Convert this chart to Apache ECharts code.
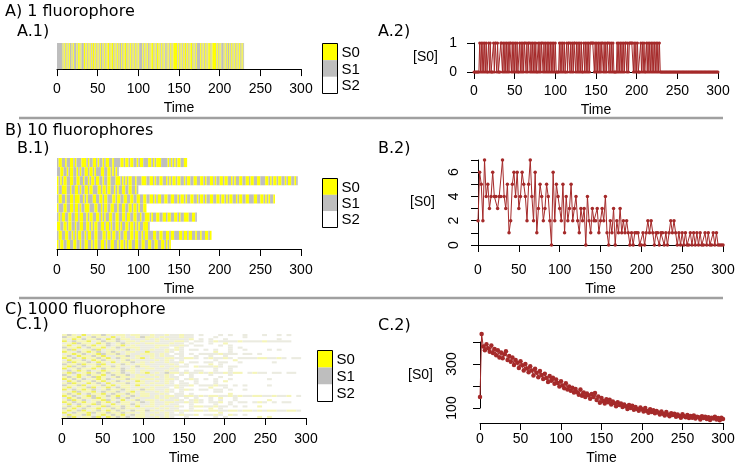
<!DOCTYPE html>
<html><head><meta charset="utf-8">
<script src="https://cdn.jsdelivr.net/npm/echarts/dist/echarts.min.js"></script>
<style>html,body{margin:0;padding:0;background:#fff}#c{width:740px;height:467px}</style>
</head><body><div id="c"></div>
<script>
// ---------- data ----------
const timeTicks = [0, 50, 100, 150, 200, 250, 300];
const stateNames = ['S0', 'S1', 'S2'];
const panelTitles = ['A) 1 fluorophore', 'B) 10 fluorophores', 'C) 1000 fluorophore'];
const subTitles = ['A.1)', 'A.2)', 'B.1)', 'B.2)', 'C.1)', 'C.2)'];

// A.1: one fluorophore, 1 time unit per char (y = S0, g = S1, missing = S2)
const a1States = [
 "gggggggygy gygygyggyg ygggygyygy gggyygygyg ygygyygygy gygyggygyg ygyygygyyg ygygygyggy gygyygygyg ygygygygyg " +
 "yggggygygy gyggygyygy gygyygygyg ygyggygygy gygyyyyygy gygygygyyg ygygyygygy gyggggygyg ygygygyygy gyyyyygygy " +
 "gygggygygy ggygygygyg ygygygygyg"
];

// B.1: ten fluorophores, 2 time units per char
const b1States = [
 "gyyggyggyy gygggyyygy ggyygyggyg yyggyggggy ygyygyyggy gyygggyygy gyyyggggyg ygygyyggyy",
 "ggyyggygyy ggygyggyyg yygygggyyg gyygygyg",
 "ygygyyggyy ggyyggyggy gyygyyggyg gyygggyyyg ygygyyggyg ggyyyggyyg yggyyggygy gyygyyggyg yyggyyggyy gyggyygygg yygyyggygy ggyyggyygy yggyygggyy gygyygyygg ygyyggyg",
 "yggyyyggyg gyygyggyyg yygggyygyy gyyggygygg yyggyyggyg",
 "gyyggyggyy gyyyggygyg ggyyggyygy ygggyygyyg gyyggyyggy yggyyggyyg ygyyggyygg yyggygyygy ggyyggygyy gyggyyggyy gyygygyygg ygyyggyygg gyyggyygyg yggy",
 "ygggyyggyy gyygyggyyy gggyyggygy yggyyggygg yyggyygyyg yggyy",
 "gygyyggyyg gyygyyggyg yyggyygygy ggyyggyygg yygyyggyyg gyggyyygyg gyyggyygyy ggyygyggyy yggyyg",
 "yyggyygyyg gyggyyggyy gygyyggyyg yygyggyygy ggyygyygyg yggyyyg",
 "gyyggyyggy gygyyggygy yggyygggyy gyygyyggyg gyyggyygyy ggygyygggy yggyyggyyg yygggyygyy gyyggyggyg gyygy",
 "ygyyggyygg yyggyggyyg gygyyggyyg yggyyggygy ygygyyggyy ggyyggyygg yyggyygygy"
];

// B.2: number of the ten fluorophores in S0, at t = 0, 2, 4, ..., 300
const b2Values = [
 2, 6, 5, 2, 7, 4, 5, 3, 4, 6,
 4, 4, 3, 4, 4, 7, 4, 3, 5, 1,
 2, 5, 6, 4, 6, 3, 4, 6, 5, 4,
 2, 5, 7, 4, 2, 6, 1, 3, 5, 4,
 2, 3, 5, 4, 2, 0, 6, 2, 5, 4,
 3, 2, 5, 1, 4, 2, 3, 5, 2, 3,
 4, 2, 1, 3, 2, 3, 0, 4, 2, 1,
 3, 2, 2, 3, 1, 2, 3, 2, 4, 1,
 0, 2, 1, 3, 0, 2, 1, 3, 1, 2,
 1, 2, 1, 0, 1, 0, 1, 1, 1, 0,
 0, 1, 0, 1, 2, 1, 2, 1, 0, 1,
 1, 0, 1, 1, 0, 1, 0, 1, 2, 1,
 2, 1, 0, 1, 0, 1, 0, 1, 0, 0,
 1, 0, 1, 0, 1, 0, 1, 0, 0, 1,
 0, 1, 0, 0, 1, 0, 1, 0, 0, 0,
 0
];

// C.1: 1000 fluorophores, shown as 40 pixel rows, 6 time units per char
// Y/G = mostly S0/S1, y/g = mixed with S2, . = S2
const c1States = [
 "yGygYgyyGy gyygyyggyg gyggygg.g. ..g.g..g.. .g..g.g...",
 "GyyYgyGyyg YgyggyGyyg ygggygg... .g.....g.. ..........",
 "ygYyGyyGgY yGyygggygy gyggggy.g. g..g...... ....g.....",
 "YgGyyYgyGy yGgyygyggy gggyyg.gg. gyggggyggg gyggggg...",
 "gyYGyygYyG gyGygygyyg ggygg.g... g..y...... ..........",
 "yYgyGyYgyG gyYgyggggy yyggyg.gg. ..g.g..... ..........",
 "GyyYgGyyYg yGgyyygggy gg.yg..... ....g.g... ..........",
 "yGYgyyGYgy ygyGgyggyg gygyg.gg.g .g..g..g.. ..g.g.....",
 "YygGyYyGgy GygyyggYgg gyg.g..... .y..g..... ..........",
 "gyYyGgyYGy yGgyggyyyg yg.gg.g.gg ggyggg.gg. g.........",
 "yGgYyyGyYg gyyGgyggyg ygg.g..g.. g..g...... ..........",
 "YyGgYyyGyY gGyygyYgyg gyyggyyg.g yggyg.gggg yyggyg.gg.",
 "gYyyGgYyGy ygyGyggggy gyg.g..... .g...y.... ..........",
 "yGYyyGgYyg YgyyGgygyg gyggy.gg.g g.gg..g... ...g......",
 "GyyGYyyGYg gyGygyyggg ggyg.g.... y.g....... ..........",
 "yYGyGgyYyy GyggyGyygg yggygg.ygg gyg.gg.... ..........",
 "YgyGyyYgGy yyGgyggyyg ggyg...... .g..g..... ..........",
 "gGyYyGgyYy gyGyygyggg gygg.g.gg. .g..g..... ..........",
 "yYGgyYyGyG yyGgygyYgy gGyygyggyg yggygyy.gy gg.gg.gg..",
 "GygYyGyyYg GyyGgyggyg gyg.g.g... g...g..... ..........",
 "yGyYgyGYyg yGyygyyggy gygg..g... ..g....... ..........",
 "YyGyGgyYyG gyyGyygyyg gyyg.gyg.g .g..g..... ..g.......",
 "gYyGyyGyYg yGgygYyggy gyg.g..g.. .g.y...... ..........",
 "yGYygYyGgY gyyGgyygyg gyg.gg.g.. .g........ ..........",
 "GyyGYgyyGy YgyygYgygy yggyggy.gg gygg.g.g.. ..g.......",
 "yYgyyGYgyY gGyyggygyg gg.yg..... y..g...... ..........",
 "YgGyYyGgyG yyGygyGyyg gyg.gyg.gg .gg.g..g.. ..........",
 "gyYGyyYgGy yGgyYgyggy gyg.g..... .gg....... ..........",
 "yGyYgGyyYg GyyGygyygg yg.gg.g... ....y..... ..........",
 "YyGgyYGyyG yYgyGgyygy gyyggyygyg yyggygyggy yggyggy.g.",
 "gYyGyyGYyg yGyGgygggy gygg.g.g.. g.y..g.... ..........",
 "yGYyGgyyYG ygYgyGgyyg yggyg.gyg. g.g..g.... ..y.......",
 "YyGyYgyGyY gGyygyGgyg gyyggygyg. ggy.g.gg.g yg.g.gg...",
 "gYgGyyYGyg YgyyGyggyg gygg..g... .g..g..... ..........",
 "yGyYyGgyYG yyGygYgyyg yggyg.gyyg gygg.g.g.. y.........",
 "GyYgGyyYgy GyGyygyggy gygg..g... y.g....... ..........",
 "yYyGYgyGyY yGygGyyGyg yggygygyyg yyggyygyyg ygyyggyyg.",
 "YgGyyYGyyG yyGyygyggy gyg.g..... ..y....... ..........",
 "gYyyGYgyYy GyYgGyygyg gyggyggy.g gyg.yg.g.. ..........",
 "yGYgyyGYgY yGyGgyyggy gyg..g.... .g.g...... y.y......."
];

// C.2: number of fluorophores in S0, at t = 0, 2, 4, ..., 300
const c2Values = [
 150, 436, 380, 362, 390, 372, 356, 384, 350, 368,
 340, 362, 330, 352, 326, 344, 358, 318, 336, 310,
 330, 296, 318, 306, 282, 312, 294, 270, 300, 280,
 262, 290, 270, 248, 278, 260, 240, 268, 250, 232,
 256, 236, 218, 246, 224, 238, 210, 230, 214, 198,
 222, 202, 190, 212, 184, 198, 178, 192, 170, 186,
 172, 160, 184, 156, 170, 150, 166, 158, 142, 164,
 150, 168, 136, 152, 124, 146, 132, 120, 140, 126,
 138, 116, 130, 122, 108, 126, 114, 120, 104, 116,
 108, 96, 114, 100, 110, 92, 104, 96, 88, 102,
 94, 84, 100, 86, 78, 94, 82, 90, 76, 86,
 80, 70, 84, 74, 66, 82, 70, 62, 76, 68,
 74, 60, 70, 64, 56, 72, 62, 58, 68, 54,
 64, 56, 66, 52, 60, 58, 48, 62, 54, 60,
 50, 58, 46, 56, 52, 60, 48, 54, 44, 56,
 50
];

// ---------- build ----------
const RED = '#a52a2a';
const abPalette = {y: '#ffff00', g: '#bebebe'};
const cPalette = {Y: '#efef58', y: '#f5f5b8', G: '#d2d2c6', g: '#ebebe0'};
const legendColors = ['#ffff00', '#bebebe', '#ffffff'];

function clean(s) { return s.replace(/ /g, ''); }
function runs(rows, unit, palette) {
  const out = [];
  const keys = Object.keys(palette);
  rows.forEach((row, i) => {
    const s = clean(row);
    const r = rows.length - 1 - i;
    let a = 0;
    while (a < s.length) {
      let b = a;
      while (b < s.length && s[b] === s[a]) b++;
      const k = keys.indexOf(s[a]);
      if (k >= 0) out.push([a * unit, b * unit, r, k]);
      a = b;
    }
  });
  return out;
}
function stripeSeries(gi, data, palette) {
  const cols = Object.values(palette);
  return {
    type: 'custom', xAxisIndex: gi, yAxisIndex: gi, data: data,
    encode: {x: [0, 1], y: 2}, silent: true,
    renderItem: function (params, api) {
      const p0 = api.coord([api.value(0), api.value(2) + 1]);
      const p1 = api.coord([api.value(1), api.value(2)]);
      return {type: 'rect', shape: {x: p0[0], y: p0[1], width: p1[0] - p0[0], height: p1[1] - p0[1]},
        style: {fill: cols[api.value(3)]}};
    }
  };
}

// A.2 derived from A.1 (1 if S0)
const a1 = clean(a1States[0]);
const a2Data = [];
for (let t = 0; t <= 300; t++) a2Data.push([t, a1[t] === 'y' ? 1 : 0]);
const b2Data = b2Values.map((v, i) => [i * 2, v]);
const c2Data = c2Values.map((v, i) => [i * 2, v]);

const FONT = 'Liberation Sans, Arial, sans-serif';
function xAx(gi, offset) {
  return {
    type: 'value', gridIndex: gi, min: 0, max: 300, offset: offset,
    axisLine: {show: true, lineStyle: {color: '#000', width: 1}},
    axisTick: {show: true, length: 7, customValues: timeTicks, lineStyle: {color: '#000'}},
    axisLabel: {color: '#000', fontSize: 14, fontFamily: FONT, margin: 9, customValues: timeTicks},
    splitLine: {show: false},
    name: 'Time', nameLocation: 'middle', nameGap: 28,
    nameTextStyle: {color: '#000', fontSize: 14, fontFamily: FONT}
  };
}
function yHidden(gi, min, max) {
  return {type: 'value', gridIndex: gi, min: min, max: max, show: false, splitLine: {show: false}};
}
function yAx(gi, min, max, interval, offset, rotate, shown, gap, margin) {
  return {
    type: 'value', gridIndex: gi, min: min, max: max, interval: interval, offset: offset,
    axisLine: {show: true, lineStyle: {color: '#000', width: 1}},
    axisTick: {show: true, length: 7, lineStyle: {color: '#000'}},
    axisLabel: {color: '#000', fontSize: 14, fontFamily: FONT, rotate: rotate, margin: margin,
      formatter: v => (shown.indexOf(v) >= 0 ? String(v) : '')},
    splitLine: {show: false},
    name: '[S0]', nameLocation: 'middle', nameRotate: 0, nameGap: gap,
    nameTextStyle: {color: '#000', fontSize: 14, fontFamily: FONT}
  };
}
function lineSeries(gi, data, size) {
  return {type: 'line', xAxisIndex: gi, yAxisIndex: gi, data: data, clip: false,
    symbol: 'circle', symbolSize: size, showSymbol: true, silent: true,
    itemStyle: {color: RED}, lineStyle: {color: RED, width: 1}};
}

const grids = [
  {left: 57, top: 43, width: 244, height: 30},
  {left: 474, top: 43, width: 244, height: 29},
  {left: 57, top: 158, width: 244, height: 96},
  {left: 478, top: 160, width: 245, height: 85},
  {left: 62, top: 334, width: 244, height: 89},
  {left: 480, top: 342, width: 243, height: 66}
].map(g => Object.assign({outerBoundsMode: 'none', containLabel: false}, g));

// graphics: titles, separators, legends
const TF = '16px "DejaVu Sans", sans-serif';
const graphics = [];
function txt(x, y, s, font) {
  graphics.push({type: 'text', x: x, y: y, silent: true,
    style: {text: s, font: font || TF, fill: '#000', verticalAlign: 'middle', align: 'left'}});
}
txt(5, 12, panelTitles[0]); txt(17, 32, subTitles[0]); txt(378, 32, subTitles[1]);
txt(5, 131, panelTitles[1]); txt(17, 149, subTitles[2]); txt(378, 149, subTitles[3]);
txt(5, 310, panelTitles[2]); txt(16, 325, subTitles[4]); txt(378, 326, subTitles[5]);
[118, 298].forEach(y => graphics.push({type: 'line', silent: true,
  shape: {x1: 19, y1: y, x2: 723, y2: y}, style: {stroke: '#a0a0a0', lineWidth: 2.5}}));
function legend(x, y, w, h) {
  const ch = h / 3;
  stateNames.forEach((n, i) => {
    graphics.push({type: 'rect', silent: true, shape: {x: x, y: y + i * ch, width: w, height: ch},
      style: {fill: legendColors[i]}});
    txt(x + 19, y + i * ch + ch / 2 + 1, n, '15px "Liberation Sans", Arial, sans-serif');
  });
  graphics.push({type: 'rect', silent: true, shape: {x: x, y: y, width: w, height: h},
    style: {fill: 'none', stroke: '#000', lineWidth: 1}});
}
legend(322.5, 43.5, 15, 50);
legend(322.5, 178.5, 15, 49);
legend(317.5, 350.5, 15, 51);

const option = {
  animation: false,
  backgroundColor: '#fff',
  grid: grids,
  xAxis: [xAx(0, 0), xAx(1, 3), xAx(2, 0), xAx(3, 9), xAx(4, 0), xAx(5, 15)],
  yAxis: [
    yHidden(0, -0.15, 1),
    yAx(1, 0, 1, 1, 8, 0, [0, 1], 28, 9),
    yHidden(2, -0.55, 10),
    yAx(3, 0, 7, 1, 9, 90, [0, 2, 4, 6], 34, 8),
    yHidden(4, -40 * 5 / 84, 40),
    yAx(5, 100, 400, 100, 10, 90, [100, 300], 37, 11)
  ],
  series: [
    stripeSeries(0, runs(a1States, 1, abPalette), abPalette),
    lineSeries(1, a2Data, 3),
    stripeSeries(2, runs(b1States, 2, abPalette), abPalette),
    lineSeries(3, b2Data, 3.5),
    stripeSeries(4, runs(c1States, 6, cPalette), cPalette),
    lineSeries(5, c2Data, 4.5)
  ],
  graphic: graphics
};
const chart = echarts.init(document.getElementById('c'), null, {renderer: 'canvas'});
chart.setOption(option);
</script>
</body></html>
